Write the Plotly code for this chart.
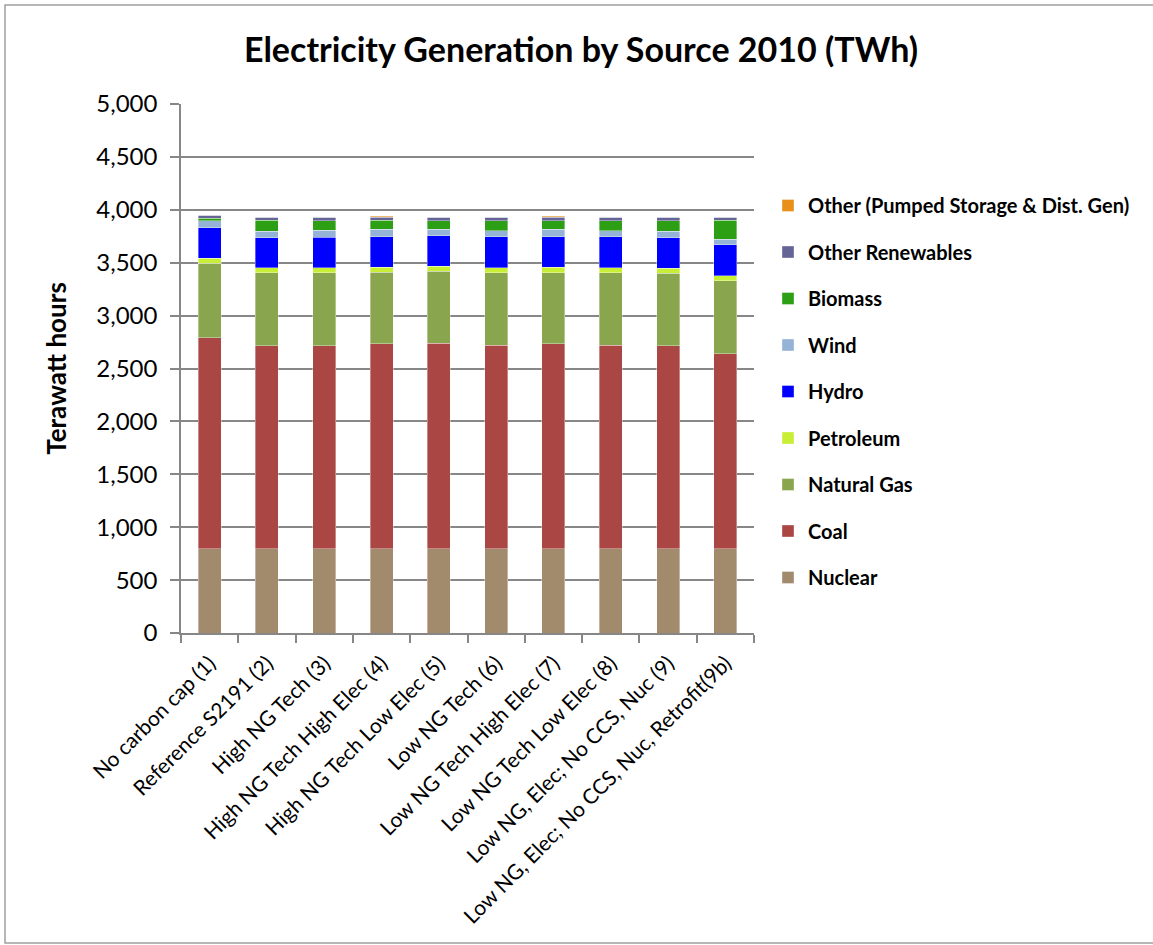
import plotly.graph_objects as go

categories = [
    "No carbon cap (1)",
    "Reference S2191 (2)",
    "High NG Tech (3)",
    "High NG Tech High Elec (4)",
    "High NG Tech Low Elec (5)",
    "Low NG Tech (6)",
    "Low NG Tech High Elec (7)",
    "Low NG Tech Low Elec (8)",
    "Low NG, Elec; No CCS, Nuc (9)",
    "Low NG, Elec; No CCS, Nuc, Retrofit(9b)",
]

nuclear = [797, 797, 797, 797, 797, 797, 797, 797, 797, 797]
coal = [1994, 1918, 1918, 1937, 1941, 1922, 1937, 1925, 1918, 1843]
natural_gas = [703, 690, 690, 677, 683, 686, 671, 683, 685, 689]
petroleum = [47, 47, 47, 48, 47, 47, 50, 47, 49, 48]
hydro = [289, 284, 290, 286, 287, 293, 290, 293, 287, 293]
wind = [66, 63, 66, 73, 63, 58, 69, 58, 63, 53]
biomass = [26, 101, 89, 85, 79, 94, 83, 94, 98, 177]
other_renewables = [28, 31, 32, 28, 34, 34, 34, 34, 34, 31]
other = [0, 0, 0, 9, 0, 0, 9, 0, 0, 0]

series = [
    ("Nuclear", nuclear, "#A28B6C"),
    ("Coal", coal, "#AA4643"),
    ("Natural Gas", natural_gas, "#89A54E"),
    ("Petroleum", petroleum, "#C9EE36"),
    ("Hydro", hydro, "#0000FF"),
    ("Wind", wind, "#95B3D7"),
    ("Biomass", biomass, "#2C9F14"),
    ("Other Renewables", other_renewables, "#646496"),
    ("Other (Pumped Storage & Dist. Gen)", other, "#E8901A"),
]

fig = go.Figure()
for i, (name, vals, col) in enumerate(series):
    fig.add_trace(go.Bar(
        x=categories, y=vals, name=name,
        marker=dict(color=col, line=dict(color="rgba(255,255,255,0.6)", width=0.6)),
        legendgroup=str(i),
        legendrank=100 - i,
    ))

grid = "#878787"
font_family = "Lato, 'Open Sans', sans-serif"

fig.update_layout(
    width=1153, height=945,
    barmode="stack",
    bargap=0.6,
    plot_bgcolor="white", paper_bgcolor="white",
    margin=dict(l=181, r=399, t=104, b=312),
    font=dict(family=font_family, color="black"),
    title=dict(
        text="<b>Electricity Generation by Source 2010 (TWh)</b>",
        x=(581 / 1153), xanchor="center", y=1 - 50 / 945, yanchor="middle",
        font=dict(size=34, family=font_family, color="black"),
    ),
    legend=dict(
        traceorder="grouped",
        tracegroupgap=17.5,
        x=1.0 + (768 - 754) / 573, xanchor="left",
        y=(633 - 186) / 529, yanchor="top",
        font=dict(size=20, family=font_family, color="black", weight="bold"),
        itemwidth=30,
        bgcolor="rgba(0,0,0,0)",
    ),
    yaxis=dict(
        range=[0, 5000], dtick=500, tickformat=",",
        showgrid=True, gridcolor=grid, gridwidth=1.5,
        showline=True, linecolor=grid, linewidth=1.5,
        ticks="outside", ticklen=9, tickcolor=grid, tickwidth=1.5,
        ticklabelstandoff=8,
        tickfont=dict(size=24, family=font_family, color="black"),
        zeroline=False,
        title=dict(text="<b>Terawatt hours</b>", font=dict(size=26, family=font_family, color="black"), standoff=22),
    ),
    xaxis=dict(
        showline=True, linecolor=grid, linewidth=1.5,
        ticks="outside", ticklen=8, tickcolor=grid, tickwidth=1.5,
        tickson="boundaries",
        tickangle=-45,
        ticklabelstandoff=8,
        tickfont=dict(size=21, family=font_family, color="black"),
    ),
    shapes=[dict(
        type="rect", xref="paper", yref="paper",
        x0=(5 - 181) / 573, x1=(1170 - 181) / 573,
        y0=(633 - 943) / 529, y1=(633 - 5) / 529,
        line=dict(color="#A0A0A0", width=1.5), fillcolor="rgba(0,0,0,0)", layer="below",
    )],
)

fig.write_html("out.html")
